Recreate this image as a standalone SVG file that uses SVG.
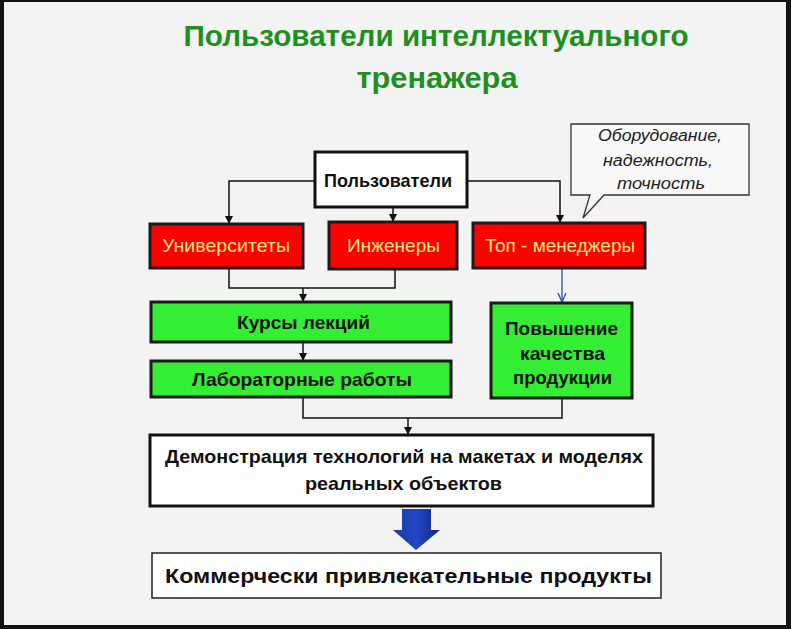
<svg xmlns="http://www.w3.org/2000/svg" width="791" height="629" viewBox="0 0 791 629">
<style>
.t{font-family:"Liberation Sans",Arial,sans-serif;}
.b{font-weight:bold;fill:#111;font-size:18.5px;text-anchor:middle;}
.r{fill:#ff0000;stroke:#1a1a1a;stroke-width:3;}
.g{fill:#33ee33;stroke:#1a1a1a;stroke-width:3;}
.w{fill:#ffffff;stroke:#111;stroke-width:3;}
.rt{fill:#ffe97a;font-size:18px;text-anchor:middle;}
.c{fill:none;stroke:#111;stroke-width:1.5;}
.it{font-style:italic;font-size:16px;fill:#222;text-anchor:middle;}
</style>
<defs>
<marker id="ar" markerWidth="8" markerHeight="8" refX="7" refY="4" orient="auto" markerUnits="userSpaceOnUse">
<path d="M0,0 L8,4 L0,8 Z" fill="#111"/>
</marker>
<marker id="ab" markerWidth="10" markerHeight="10" refX="9" refY="5" orient="auto" markerUnits="userSpaceOnUse">
<path d="M0,1 L9,5 L0,9" fill="none" stroke="#2b4fa8" stroke-width="1.3"/>
</marker>
<linearGradient id="bl" x1="0" y1="0" x2="1" y2="0">
<stop offset="0" stop-color="#1a3aa0"/>
<stop offset="0.5" stop-color="#2346c8"/>
<stop offset="1" stop-color="#10287a"/>
</linearGradient>
</defs>
<rect x="0" y="0" width="791" height="629" fill="#111"/>
<rect x="4" y="2" width="782" height="623" fill="#f3f3f3"/>

<g id="title" class="t" font-weight="bold" fill="#1f8f1f" font-size="30" text-anchor="middle">
<text x="436" y="46" textLength="505" lengthAdjust="spacingAndGlyphs">Пользователи  интеллектуального</text>
<text x="437" y="88" textLength="161" lengthAdjust="spacingAndGlyphs">тренажера</text>
</g>

<g id="connectors">
<path class="c" d="M315,181 H229 V223" marker-end="url(#ar)"/>
<path class="c" d="M393,207 V221" marker-end="url(#ar)"/>
<path class="c" d="M467,181 H560 V222" marker-end="url(#ar)"/>
<path class="c" d="M229,268 V288 H395 V269"/>
<path class="c" d="M303,288 V301" marker-end="url(#ar)"/>
<path class="c" d="M303,342 V360" marker-end="url(#ar)"/>
<path class="c" d="M303,397 V418 H562 V398"/>
<path class="c" d="M408,418 V434" marker-end="url(#ar)"/>
<path d="M562,268 V302" fill="none" stroke="#2b4fa8" stroke-width="1.3" marker-end="url(#ab)"/>
</g>

<g id="n-users">
<rect class="w" x="315" y="152" width="152" height="55"/>
<text class="t b" x="388" y="187" textLength="128" lengthAdjust="spacingAndGlyphs">Пользователи</text>
</g>
<g id="n-univ">
<rect class="r" x="150" y="224" width="153" height="44"/>
<text class="t rt" x="226" y="252" textLength="128" lengthAdjust="spacingAndGlyphs">Университеты</text>
</g>
<g id="n-eng">
<rect class="r" x="329" y="222" width="128" height="47"/>
<text class="t rt" x="393.5" y="252" textLength="93" lengthAdjust="spacingAndGlyphs">Инженеры</text>
</g>
<g id="n-top">
<rect class="r" x="473" y="223" width="172" height="45"/>
<text class="t rt" x="560" y="252" textLength="150" lengthAdjust="spacingAndGlyphs">Топ - менеджеры</text>
</g>
<g id="n-callout">
<path d="M571,124 H749 V195 H604 L583,218 L590,195 H571 Z" fill="#f8f8f8" stroke="#333" stroke-width="1.3"/>
<text class="t it" x="660" y="141" textLength="124" lengthAdjust="spacingAndGlyphs">Оборудование,</text>
<text class="t it" x="658" y="166" textLength="110" lengthAdjust="spacingAndGlyphs">надежность,</text>
<text class="t it" x="661" y="189" textLength="88" lengthAdjust="spacingAndGlyphs">точность</text>
</g>
<g id="n-lect">
<rect class="g" x="151" y="302" width="300" height="40"/>
<text class="t b" x="303.5" y="329" textLength="133" lengthAdjust="spacingAndGlyphs">Курсы лекций</text>
</g>
<g id="n-lab">
<rect class="g" x="151" y="361" width="300" height="36"/>
<text class="t b" x="302" y="386" textLength="220" lengthAdjust="spacingAndGlyphs">Лабораторные  работы</text>
</g>
<g id="n-quality">
<rect class="g" x="491" y="303" width="141" height="95"/>
<text class="t b" x="561.5" y="335" textLength="113" lengthAdjust="spacingAndGlyphs">Повышение</text>
<text class="t b" x="562.5" y="360" textLength="85" lengthAdjust="spacingAndGlyphs">качества</text>
<text class="t b" x="562.5" y="384" textLength="99" lengthAdjust="spacingAndGlyphs">продукции</text>
</g>
<g id="n-demo">
<rect class="w" x="150" y="435" width="503" height="71"/>
<text class="t b" x="404" y="463" textLength="478" lengthAdjust="spacingAndGlyphs">Демонстрация  технологий  на макетах и моделях</text>
<text class="t b" x="403.5" y="490" textLength="197" lengthAdjust="spacingAndGlyphs">реальных объектов</text>
</g>
<g id="arrow-big">
<path d="M402,509 H431 V530 H440 L416,550 L393,530 H402 Z" fill="url(#bl)"/>
</g>
<g id="n-comm">
<rect x="152" y="553" width="509" height="45" fill="#fff" stroke="#222" stroke-width="1.5"/>
<text class="t" x="408.5" y="583" font-family="'DejaVu Sans',Verdana,sans-serif" font-weight="bold" font-size="21" fill="#111" text-anchor="middle" textLength="487" lengthAdjust="spacingAndGlyphs">Коммерчески привлекательные продукты</text>
</g>
</svg>
